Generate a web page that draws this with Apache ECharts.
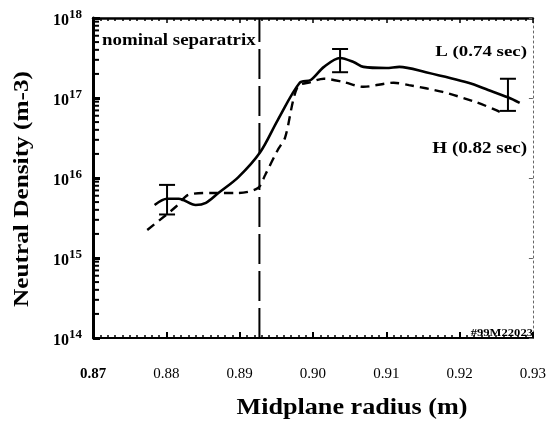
<!DOCTYPE html>
<html><head><meta charset="utf-8">
<script src="https://cdn.jsdelivr.net/npm/echarts@6/dist/echarts.min.js"></script>
<style>html,body{margin:0;padding:0;background:#fff}#c{width:549px;height:424px}</style>
</head><body><div id="c"></div>
<script>
// ---- data ----
const xTickLabels = ['0.87','0.88','0.89','0.90','0.91','0.92','0.93'];
const yExponents = [14, 15, 16, 17, 18];

const lRadius  = [0.8784,0.8801,0.8817,0.8840,0.8854,0.8871,0.8898,0.8928,0.8952,0.8982,0.8997,0.9015,0.9037,0.9056,0.9069,0.9100,0.9118,0.9154,0.9212,0.9239,0.9266,0.9282];
const lDensity = [4.6e15,5.5e15,5.5e15,4.6e15,4.9e15,6.5e15,1.02e16,2.1e16,5.3e16,1.55e17,1.68e17,2.45e17,3.16e17,2.8e17,2.45e17,2.37e17,2.45e17,2.1e17,1.55e17,1.26e17,1.02e17,8.7e16];

const hRadius  = [0.8774,0.8800,0.8813,0.8831,0.8862,0.8898,0.8925,0.8935,0.8952,0.8962,0.8979,0.8997,0.9015,0.9042,0.9069,0.9110,0.9131,0.9177,0.9222,0.9249,0.9262];
const hDensity = [2.24e15,3.47e15,4.37e15,6.2e15,6.5e15,6.5e15,7.5e15,1.1e16,2.24e16,3.2e16,1.38e17,1.58e17,1.74e17,1.58e17,1.38e17,1.55e17,1.45e17,1.19e17,8.9e16,7.1e16,6.2e16];

const errRadius = [0.8801, 0.9037, 0.9266];
const errLow    = [3.5e15, 2.1e17, 6.9e16];
const errHigh   = [8.2e15, 4.1e17, 1.74e17];

const separatrix = 0.8927;
const minorDecades = [14, 15, 16, 17];
const minorMultipliers = [2,3,4,5,6,7,8,9];

// ---- chart ----
const serif = '"Liberation Serif", "DejaVu Serif", serif';
const chart = echarts.init(document.getElementById('c'), null, {renderer: 'canvas'});

const xMin = parseFloat(xTickLabels[0]);
const xMax = parseFloat(xTickLabels[xTickLabels.length - 1]);

const lData = lRadius.map((r, i) => [r, lDensity[i]]);
const hData = hRadius.map((r, i) => [r, hDensity[i]]);
const errData = errRadius.map((r, i) => [r, errLow[i], errHigh[i]]);
const minorData = [];
minorDecades.forEach(d => minorMultipliers.forEach(m => minorData.push([xMin, m * Math.pow(10, d)])));

function label(text, x, y, size, align, sx, rot) {
  return {
    type: 'group', x: x, y: y, rotation: rot || 0,
    children: [{
      type: 'text', scaleX: sx,
      style: {text: text, font: 'bold ' + size + 'px ' + serif, fill: '#000', textAlign: align, textVerticalAlign: 'middle'}
    }]
  };
}

chart.setOption({
  animation: false,
  backgroundColor: '#fff',
  grid: {left: 93, right: 11, top: 18, bottom: 86},
  xAxis: [{
    type: 'value', min: xMin, max: xMax, interval: 0.01,
    axisLine: {show: true, onZero: false, lineStyle: {color: '#000', width: 2}},
    axisTick: {show: true, inside: true, length: 6, lineStyle: {color: '#000', width: 2}},
    minorTick: {show: true, splitNumber: 10, length: 3, lineStyle: {color: '#000', width: 1.5}},
    splitLine: {show: false}, minorSplitLine: {show: false},
    axisLabel: {
      margin: 29, color: '#000', fontFamily: serif, fontSize: 15,
      formatter: (v) => {
        const s = v.toFixed(2);
        return s === xTickLabels[0] ? '{b|' + s + '}' : s;
      },
      rich: {b: {fontWeight: 'bold', fontFamily: serif, fontSize: 15, color: '#000'}}
    }
  }, {
    type: 'value', position: 'top', min: xMin, max: xMax, interval: 0.01,
    axisLine: {show: true, onZero: false, lineStyle: {color: '#000', width: 2.5}},
    axisTick: {show: true, inside: true, length: 5, lineStyle: {color: '#000', width: 1.5}},
    minorTick: {show: true, splitNumber: 10, length: 3, lineStyle: {color: '#000', width: 1.5}},
    axisLabel: {show: false}, splitLine: {show: false}
  }],
  yAxis: [{
    type: 'log', logBase: 10, min: 1e14, max: 1e18,
    axisLine: {show: true, onZero: false, lineStyle: {color: '#000', width: 3}},
    axisTick: {show: true, inside: true, length: 7, lineStyle: {color: '#000', width: 3}},
    splitLine: {show: false},
    axisLabel: {
      margin: 11, color: '#000', fontFamily: serif,
      formatter: (v) => {
        const e = Math.round(Math.log10(v));
        return yExponents.includes(e) ? '{a|10}{e|' + e + '}' : '';
      },
      rich: {
        a: {fontFamily: serif, fontSize: 16, fontWeight: 'bold', color: '#000', padding: [6, 0, 0, 0]},
        e: {fontFamily: serif, fontSize: 13, fontWeight: 'bold', color: '#000', padding: [0, 0, 6, 0]}
      }
    }
  }, {
    type: 'log', logBase: 10, min: 1e14, max: 1e18, position: 'right',
    axisLine: {show: true, onZero: false, lineStyle: {color: '#666', width: 1, type: [2, 3]}},
    axisTick: {show: true, inside: true, length: 4, lineStyle: {color: '#666', width: 1}},
    axisLabel: {show: false}, splitLine: {show: false}
  }],
  series: [
    {
      name: 'L (0.74 sec)', type: 'line', data: lData, showSymbol: false, smooth: 0.3,
      lineStyle: {color: '#000', width: 2.6}, z: 5
    },
    {
      name: 'H (0.82 sec)', type: 'line', data: hData, showSymbol: false, smooth: 0.3,
      lineStyle: {color: '#000', width: 2.4, type: [9, 6]}, z: 5
    },
    {
      type: 'custom', data: [[separatrix, 1e14, 1e18]], z: 4, silent: true,
      encode: {x: 0, y: [1, 2]},
      renderItem: (params, api) => {
        const a = api.coord([api.value(0), api.value(1)]);
        const b = api.coord([api.value(0), api.value(2)]);
        return {type: 'line', shape: {x1: a[0], y1: a[1], x2: b[0], y2: b[1]},
                style: {stroke: '#000', lineWidth: 2, lineDash: [30, 7]}};
      }
    },
    {
      type: 'custom', data: errData, z: 6,
      encode: {x: 0, y: [1, 2]},
      renderItem: (params, api) => {
        const x = api.value(0);
        const lo = api.coord([x, api.value(1)]);
        const hi = api.coord([x, api.value(2)]);
        const w = 8;
        const st = {stroke: '#000', lineWidth: 2};
        return {type: 'group', children: [
          {type: 'line', shape: {x1: lo[0], y1: lo[1], x2: hi[0], y2: hi[1]}, style: st},
          {type: 'line', shape: {x1: lo[0] - w, y1: lo[1], x2: lo[0] + w, y2: lo[1]}, style: st},
          {type: 'line', shape: {x1: hi[0] - w, y1: hi[1], x2: hi[0] + w, y2: hi[1]}, style: st}
        ]};
      }
    },
    {
      type: 'custom', data: minorData, z: 7, silent: true,
      encode: {x: 0, y: 1},
      renderItem: (params, api) => {
        const p = api.coord([api.value(0), api.value(1)]);
        return {type: 'line', shape: {x1: p[0], y1: p[1], x2: p[0] + 6, y2: p[1]}, style: {stroke: '#000', lineWidth: 2}};
      }
    }
  ],
  graphic: [
    label('Neutral Density (m-3)', 22, 189, 22, 'center', 1.15, -Math.PI / 2 * -1),
    label('Midplane radius (m)', 352, 408, 24, 'center', 1.09),
    label('nominal separatrix', 102, 41, 16, 'left', 1.18),
    label('L (0.74 sec)', 527, 52, 15, 'right', 1.26),
    label('H (0.82 sec)', 527, 149, 16, 'right', 1.19),
    label('#99M22023', 533, 333, 10, 'right', 1.26)
  ]
});
</script>
</body></html>
